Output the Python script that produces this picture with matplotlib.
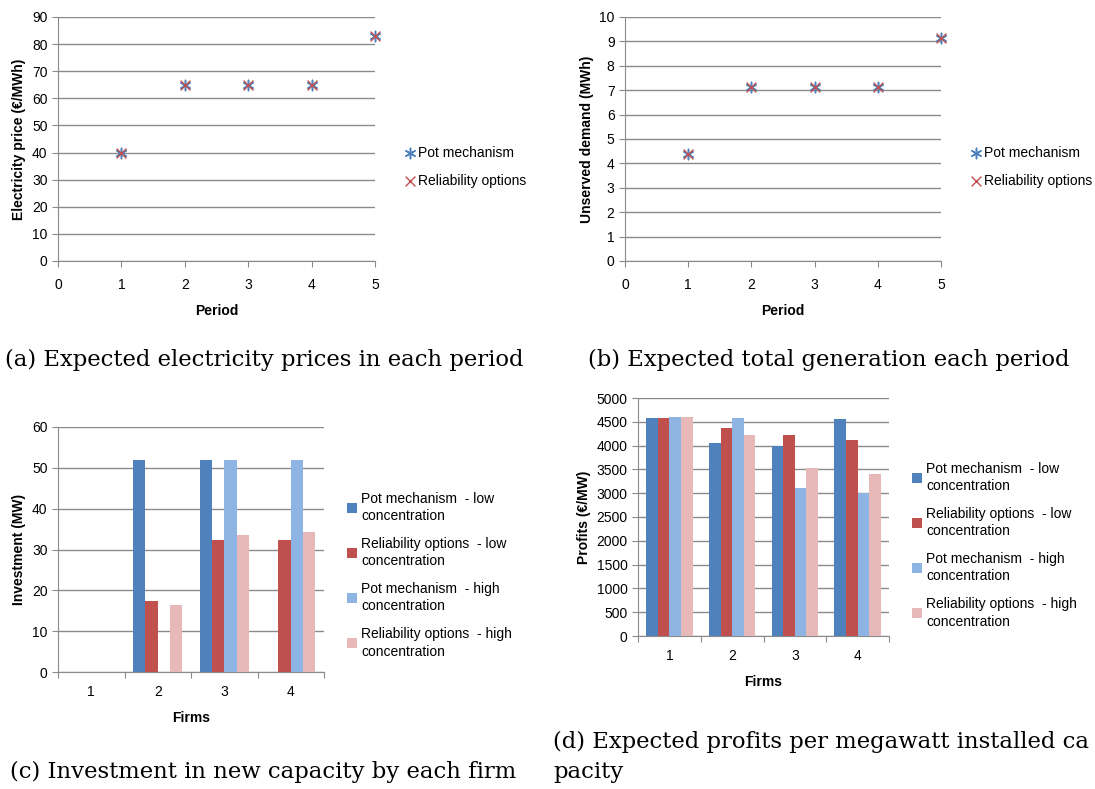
import numpy as np
import matplotlib
matplotlib.use('Agg')
import matplotlib.pyplot as plt

# data
periods = [1, 2, 3, 4, 5]
price_pot = [40, 65, 65, 65, 83]
price_ro = [40, 65, 65, 65, 83]
unserved_pot = [4.4, 7.15, 7.15, 7.15, 9.15]
unserved_ro = [4.4, 7.15, 7.15, 7.15, 9.15]

firms = ['1', '2', '3', '4']
inv_pot_low = [0, 52, 52, 0]
inv_ro_low = [0, 17.4, 32.4, 32.4]
inv_pot_high = [0, 0, 52, 52]
inv_ro_high = [0, 16.3, 33.6, 34.4]

prof_pot_low = [4580, 4045, 3995, 4560]
prof_ro_low = [4580, 4370, 4230, 4115]
prof_pot_high = [4600, 4580, 3100, 2995]
prof_ro_high = [4600, 4230, 3520, 3400]

bar_labels = ['Pot mechanism  - low\nconcentration',
              'Reliability options  - low\nconcentration',
              'Pot mechanism  - high\nconcentration',
              'Reliability options  - high\nconcentration']
bar_colors = ['#4F81BD', '#C0504D', '#8EB4E3', '#E6B9B8']

plt.rcParams['font.family'] = ['Liberation Sans', 'DejaVu Sans']
plt.rcParams['font.size'] = 10
GRID = '#8a8a8a'

fig = plt.figure(figsize=(10.95, 7.89), dpi=100)
W, H = 1095, 789


def axes_px(l, t, r, b):
    return fig.add_axes([l / W, 1 - b / H, (r - l) / W, (b - t) / H])


def excel_style(ax):
    for s in ['top', 'right']:
        ax.spines[s].set_visible(False)
    for s in ['left', 'bottom']:
        ax.spines[s].set_color(GRID)
    ax.yaxis.grid(True, color=GRID, linewidth=1)
    ax.set_axisbelow(True)
    ax.tick_params(axis='both', color=GRID, length=4, direction='out', labelsize=10)
    ax.tick_params(axis='x', pad=8)


def scatter_panel(ax, pot, ro, ymax, ystep, ylabel, leg_pos):
    excel_style(ax)
    ax.scatter(periods, pot, marker=(6, 2, 0), s=55, color='#4F81BD', linewidths=1.1,
               label='Pot mechanism', clip_on=False, zorder=3)
    ax.scatter(periods, ro, marker='x', s=50, color='#C0504D', linewidths=1.0,
               label='Reliability options', clip_on=False, zorder=4)
    ax.set_xlim(0, 5)
    ax.set_ylim(0, ymax)
    ax.set_xticks(range(0, 6))
    ax.set_yticks(np.arange(0, ymax + ystep / 2, ystep))
    ax.set_xlabel('Period', fontweight='bold', fontsize=10, labelpad=9)
    ax.set_ylabel(ylabel, fontweight='bold', fontsize=10, labelpad=4)
    ax.legend(loc='upper left', bbox_to_anchor=leg_pos, bbox_transform=fig.transFigure,
              frameon=False, handletextpad=0.0, labelspacing=1.05, fontsize=10,
              handlelength=1.2, borderaxespad=0)


def bar_panel(ax, series, ymax, ystep, ylabel, leg_pos):
    excel_style(ax)
    x = np.arange(len(firms))
    w = 0.185
    for i, (vals, lab, col) in enumerate(zip(series, bar_labels, bar_colors)):
        ax.bar(x + (i - 1.5) * w, vals, width=w, color=col, label=lab, zorder=3)
    ax.set_xlim(-0.5, len(firms) - 0.5)
    ax.set_ylim(0, ymax)
    ax.set_yticks(np.arange(0, ymax + ystep / 2, ystep))
    ax.set_xticks(np.arange(-0.5, len(firms)), labels=[''] * (len(firms) + 1))
    ax.set_xticks(x, labels=firms, minor=True)
    ax.tick_params(axis='x', which='minor', length=0, pad=9, labelsize=10)
    ax.set_xlabel('Firms', fontweight='bold', fontsize=10, labelpad=9)
    ax.set_ylabel(ylabel, fontweight='bold', fontsize=10, labelpad=4)
    leg = ax.legend(loc='upper left', bbox_to_anchor=leg_pos, bbox_transform=fig.transFigure,
                    frameon=False, handletextpad=0.3, labelspacing=0.95, fontsize=10,
                    handlelength=0.75, handleheight=0.75, borderaxespad=0)
    for t in leg.get_texts():
        t.set_linespacing(1.35)


ax_a = axes_px(58, 17, 375, 261)
scatter_panel(ax_a, price_pot, price_ro, 90, 10, 'Electricity price (€/MWh)',
              (396 / W, 1 - 140 / H))
ax_b = axes_px(625, 17, 941, 261)
scatter_panel(ax_b, unserved_pot, unserved_ro, 10, 1, 'Unserved demand (MWh)',
              (962 / W, 1 - 140 / H))
ax_c = axes_px(58, 427, 324, 672)
bar_panel(ax_c, [inv_pot_low, inv_ro_low, inv_pot_high, inv_ro_high], 60, 10,
          'Investment (MW)', (341 / W, 1 - 486 / H))
ax_d = axes_px(638, 398, 889, 636)
bar_panel(ax_d, [prof_pot_low, prof_ro_low, prof_pot_high, prof_ro_high], 5000, 500,
          'Profits (€/MW)', (906 / W, 1 - 456 / H))

cap = dict(family=['DejaVu Serif'], fontsize=16.4, va='center', ha='left')
fig.text(5 / W, 1 - 360 / H, '(a) Expected electricity prices in each period', **cap)
fig.text(588 / W, 1 - 360 / H, '(b) Expected total generation each period', **cap)
fig.text(10 / W, 1 - 772 / H, '(c) Investment in new capacity by each firm', **cap)
fig.text(553 / W, 1 - 742 / H, '(d) Expected profits per megawatt installed ca', **cap)
fig.text(553 / W, 1 - 772 / H, 'pacity', **cap)

fig.savefig('out.png', dpi=100)
